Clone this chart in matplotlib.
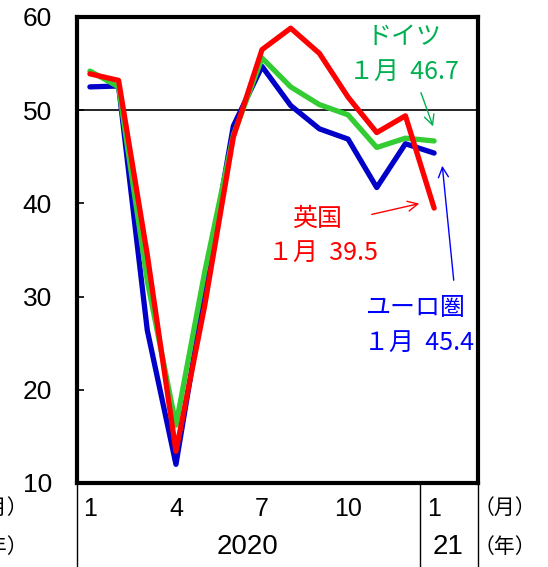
import matplotlib
matplotlib.use("Agg")
import matplotlib.pyplot as plt

plt.rcParams["font.family"] = ["Noto Sans CJK JP", "DejaVu Sans"]
num_font = ["Liberation Sans", "DejaVu Sans"]

# services PMI, Jan 2020 - Jan 2021
months = list(range(1, 14))
euro_area = [52.5, 52.6, 26.4, 12.0, 30.5, 48.3, 54.7, 50.5, 48.0, 46.9, 41.7, 46.4, 45.4]
germany = [54.2, 52.5, 31.7, 16.2, 32.6, 47.3, 55.6, 52.5, 50.6, 49.5, 46.0, 47.0, 46.7]
uk = [53.9, 53.2, 34.5, 13.4, 29.0, 47.1, 56.5, 58.8, 56.1, 51.4, 47.6, 49.4, 39.5]

month_ticks = [1, 4, 7, 10, 13]
month_labels = ["1", "4", "7", "10", "1"]
year_labels = [(6.5, "2020"), (13.5, "21")]

W, H = 548, 567
fig = plt.figure(figsize=(W / 100, H / 100), dpi=100)
ax = fig.add_axes([77 / W, 1 - 483 / H, (478 - 77) / W, (483 - 17) / H])

ax.plot(months, euro_area, color="#0000C8", lw=3.8, solid_capstyle="round", zorder=3)
ax.plot(months, germany, color="#33CC33", lw=3.8, solid_capstyle="round", zorder=4)
ax.plot(months, uk, color="#FF0000", lw=3.8, solid_capstyle="round", zorder=5)
ax.axhline(50, color="black", lw=1.2, zorder=1)

ax.set_xlim(0.55, 14.53)
ax.set_ylim(10, 60)
ax.set_yticks(range(10, 61, 10))
ax.tick_params(axis="y", direction="in", length=5, width=1.2, labelsize=19, pad=18)
ax.set_xticks(month_ticks)
ax.set_xticklabels(month_labels)
ax.tick_params(axis="x", length=0, labelsize=18, pad=10)
for lab in ax.get_xticklabels() + ax.get_yticklabels():
    lab.set_family(num_font)
for s in ax.spines.values():
    s.set_linewidth(3)

# bottom frame lines
xt = ax.get_xaxis_transform()
for x in [0.55, 12.5, 14.53]:
    ax.plot([x, x], [0, -0.19], color="black", lw=1, transform=xt, clip_on=False)
for x, lab in year_labels:
    ax.text(x, -0.138, lab, transform=xt, ha="center", va="center", fontsize=20,
            family=num_font)

fig.text(474 / W, 1 - 508 / H, "（月）", ha="left", va="center", fontsize=15)
fig.text(474 / W, 1 - 547 / H, "（年）", ha="left", va="center", fontsize=15)
fig.text(28 / W, 1 - 508 / H, "（月）", ha="right", va="center", fontsize=15)
fig.text(28 / W, 1 - 547 / H, "（年）", ha="right", va="center", fontsize=15)

# annotations
def px(x, y):
    return (x / W, 1 - y / H)

notes = [
    ((404, 37), "ドイツ", "#00B050"),
    ((404, 72), "１月  46.7", "#00B050"),
    ((317, 219), "英国", "#FF0000"),
    ((323, 253), "１月  39.5", "#FF0000"),
    ((415, 308), "ユーロ圏", "#0000FF"),
    ((419, 343), "１月  45.4", "#0000FF"),
]
for (x, y), s, c in notes:
    fig.text(*px(x, y), s, color=c, ha="center", va="center", fontsize=18)

arrows = [
    ((420, 90), (434, 129), "#00B050"),
    ((369, 215), (422, 203), "#FF0000"),
    ((454, 283), (442, 163), "#0000FF"),
]
for (x0, y0), (x1, y1), c in arrows:
    ax.annotate("", xy=px(x1, y1), xytext=px(x0, y0), xycoords="figure fraction",
                textcoords="figure fraction",
                arrowprops=dict(arrowstyle="->", color=c, lw=1, mutation_scale=18),
                annotation_clip=False)

fig.savefig("out.png", dpi=100)
